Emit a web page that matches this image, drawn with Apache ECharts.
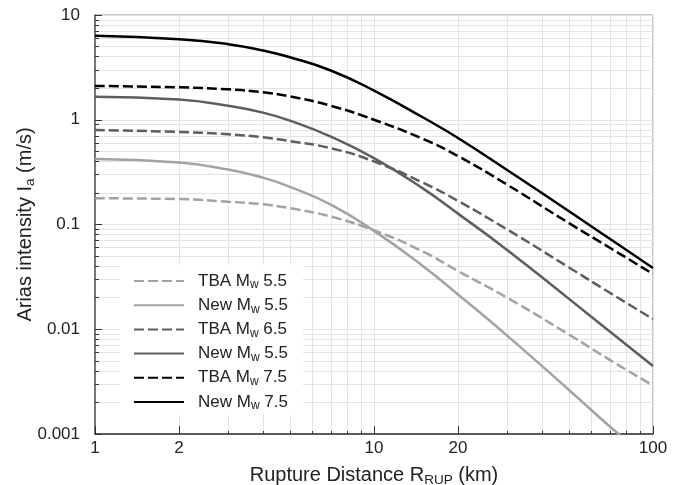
<!DOCTYPE html>
<html><head><meta charset="utf-8">
<script src="https://cdn.jsdelivr.net/npm/echarts@6/dist/echarts.min.js"></script>
<style>html,body{margin:0;padding:0;background:#fff}#c{width:690px;height:485px}</style>
</head><body><div id="c"></div>
<script>
// ---- data ----
const distance = [1, 2, 3, 4, 5, 7, 10, 15, 20, 30, 50, 70, 100];
const distanceNew55 = [1, 2, 3, 4, 5, 7, 10, 15, 20, 30, 50, 70, 80];
const tba55 = [0.178, 0.175, 0.165, 0.156, 0.143, 0.119, 0.088, 0.055, 0.036, 0.0200, 0.0089, 0.0051, 0.0029];
const new55 = [0.421, 0.39, 0.335, 0.28, 0.229, 0.155, 0.087, 0.040, 0.0215, 0.0087, 0.00263, 0.00118, 0.00088];
const tba65 = [0.797, 0.764, 0.726, 0.68, 0.626, 0.535, 0.40, 0.25, 0.168, 0.0897, 0.0389, 0.0223, 0.0125];
const new65 = [1.66, 1.56, 1.36, 1.17, 0.98, 0.69, 0.43, 0.22, 0.127, 0.0572, 0.0195, 0.0095, 0.00446];
const tba75 = [2.10, 2.04, 1.95, 1.83, 1.67, 1.36, 1.0, 0.655, 0.45, 0.24, 0.103, 0.060, 0.0337];
const new75 = [6.34, 5.88, 5.27, 4.58, 3.95, 2.95, 1.9, 1.05, 0.67, 0.331, 0.134, 0.073, 0.0385];

const seriesNames = ['TBA Mw 5.5', 'New Mw 5.5', 'TBA Mw 6.5', 'New Mw 6.5', 'TBA Mw 7.5', 'New Mw 7.5'];
const legendLabels = ['TBA M{s|w} 5.5', 'New M{s|w} 5.5', 'TBA M{s|w} 6.5', 'New M{s|w} 5.5', 'TBA M{s|w} 7.5', 'New M{s|w} 7.5'];

const xMajorTicks = [1, 2, 10, 20, 100];
const xMajorLabels = ['1', '2', '10', '20', '100'];
const xMinorTicks = [3, 4, 5, 6, 7, 8, 9, 30, 40, 50, 60, 70, 80, 90];
const yMajorTicks = [0.001, 0.01, 0.1, 1, 10];
const yMajorLabels = ['0.001', '0.01', '0.1', '1', '10'];
const yMinorTicks = [0.002, 0.003, 0.004, 0.005, 0.006, 0.007, 0.008, 0.009,
  0.02, 0.03, 0.04, 0.05, 0.06, 0.07, 0.08, 0.09,
  0.2, 0.3, 0.4, 0.5, 0.6, 0.7, 0.8, 0.9,
  2, 3, 4, 5, 6, 7, 8, 9];

const xTitle = 'Rupture Distance R{s|RUP} (km)';
const yTitle = 'Arias intensity I{s|a} (m/s)';

// ---- chart ----
const FONT = 'Liberation Sans, Arial, sans-serif';
const LIGHT = '#a3a3a3', MID = '#5e5e5e', DARK = '#000000';
const GRIDC = '#e3e3e3';

function lbl(ticks, labels) {
  return function (v) {
    for (let i = 0; i < ticks.length; i++) {
      if (Math.abs(Math.log10(ticks[i]) - v) < 1e-6) return labels[i];
    }
    return '';
  };
}

function mk(name, xs, ys, color, dashed) {
  return {
    name: name, type: 'line', xAxisIndex: 0, yAxisIndex: 0,
    data: xs.map((x, i) => [x, ys[i]]),
    symbol: 'none', smooth: 0.5, z: 5,
    lineStyle: { color: color, width: 2.5, type: dashed ? [10, 4] : 'solid' },
    itemStyle: { color: color },
    emphasis: { disabled: true }
  };
}

const chart = echarts.init(document.getElementById('c'), null, { renderer: 'canvas' });
chart.setOption({
  animation: false,
  backgroundColor: '#fff',
  grid: { left: 95, right: 37, top: 15, bottom: 51, show: true, borderColor: '#8a8a8a', borderWidth: 1, outerBoundsMode: 'none' },
  legend: {
    orient: 'vertical', left: 120, top: 265, padding: [6, 15, 3, 13],
    backgroundColor: '#fff', itemWidth: 50, itemHeight: 14, itemGap: 4.2,
    selectedMode: false, data: seriesNames,
    itemStyle: { opacity: 0 },
    formatter: name => '{g|}' + legendLabels[seriesNames.indexOf(name)],
    textStyle: {
      fontSize: 17, color: '#222', fontFamily: FONT, lineHeight: 20,
      rich: {
        g: { width: 9 },
        s: { fontSize: 12, lineHeight: 20, verticalAlign: 'bottom', fontFamily: FONT, color: '#222' }
      }
    }
  },
  xAxis: [
    { type: 'log', logBase: 10, min: 1, max: 100, show: false },
    {
      type: 'value', min: 0, max: 2, position: 'bottom',
      axisLine: { show: true, onZero: false, lineStyle: { color: '#333', width: 1.5 } },
      axisTick: { show: true, inside: true, length: 8, customValues: xMajorTicks.map(Math.log10), lineStyle: { color: '#333', width: 1 } },
      axisLabel: { customValues: xMajorTicks.map(Math.log10), formatter: lbl(xMajorTicks, xMajorLabels), margin: 6, fontSize: 17, color: '#222', fontFamily: FONT },
      splitLine: { show: true, lineStyle: { color: GRIDC, width: 1 } },
      name: xTitle, nameLocation: 'middle', nameGap: 29, nameMoveOverlap: false,
      nameTextStyle: { fontSize: 20, color: '#222', fontFamily: FONT, lineHeight: 24,
        rich: { s: { fontSize: 13.5, lineHeight: 24, verticalAlign: 'bottom', fontFamily: FONT, color: '#222' } } }
    },
    {
      type: 'value', min: 0, max: 2, position: 'bottom',
      axisLine: { show: false, onZero: false },
      axisTick: { show: true, inside: true, length: 3, customValues: xMinorTicks.map(Math.log10), lineStyle: { color: '#333', width: 1 } },
      axisLabel: { show: false },
      splitLine: { show: true, lineStyle: { color: GRIDC, width: 1 } }
    }
  ],
  yAxis: [
    { type: 'log', logBase: 10, min: 0.001, max: 10, show: false },
    {
      type: 'value', min: -3, max: 1, position: 'left',
      axisLine: { show: true, onZero: false, lineStyle: { color: '#555', width: 1.5 } },
      axisTick: { show: true, inside: true, length: 7, customValues: yMajorTicks.map(Math.log10), lineStyle: { color: '#333', width: 1 } },
      axisLabel: { customValues: yMajorTicks.map(Math.log10), formatter: lbl(yMajorTicks, yMajorLabels), margin: 15, fontSize: 17, color: '#222', fontFamily: FONT },
      splitLine: { show: true, lineStyle: { color: GRIDC, width: 1 } },
      name: yTitle, nameLocation: 'middle', nameGap: 58, nameMoveOverlap: false,
      nameTextStyle: { fontSize: 20, color: '#222', fontFamily: FONT, lineHeight: 24,
        rich: { s: { fontSize: 13.5, lineHeight: 24, verticalAlign: 'bottom', fontFamily: FONT, color: '#222' } } }
    },
    {
      type: 'value', min: -3, max: 1, position: 'left',
      axisLine: { show: false, onZero: false },
      axisTick: { show: true, inside: true, length: 4, customValues: yMinorTicks.map(Math.log10), lineStyle: { color: '#333', width: 1 } },
      axisLabel: { show: false },
      splitLine: { show: true, lineStyle: { color: GRIDC, width: 1 } }
    }
  ],
  series: [
    mk(seriesNames[0], distance, tba55, LIGHT, true),
    mk(seriesNames[1], distanceNew55, new55, LIGHT, false),
    mk(seriesNames[2], distance, tba65, MID, true),
    mk(seriesNames[3], distance, new65, MID, false),
    mk(seriesNames[4], distance, tba75, DARK, true),
    mk(seriesNames[5], distance, new75, DARK, false)
  ]
});
</script></body></html>
